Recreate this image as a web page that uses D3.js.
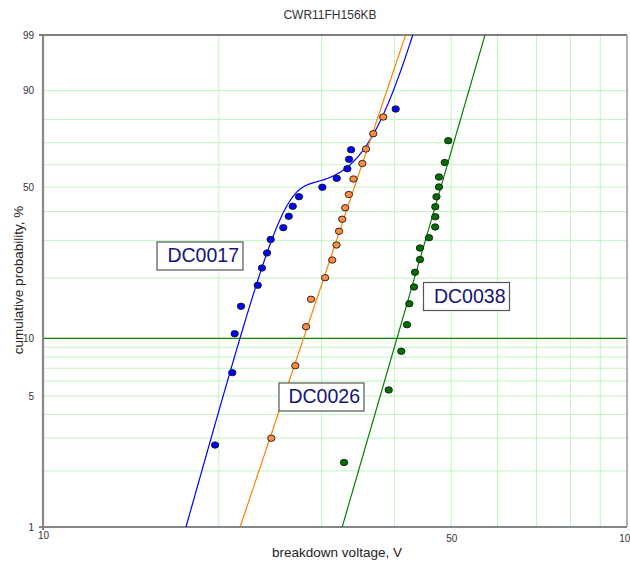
<!DOCTYPE html>
<html>
<head>
<meta charset="utf-8">
<script src="https://cdn.jsdelivr.net/npm/d3@7"></script>
<style>
  body { margin: 0; background: #fff; }
  svg { display: block; font-family: "Liberation Sans", Arial, sans-serif; }
</style>
</head>
<body>
<svg id="chart" width="630" height="565"></svg>
<script>
// Breakdown voltage (V) and cumulative failure probability (%) per lot
const dc0017Volts = [19.71, 21.09, 21.29, 21.83, 23.32, 23.71, 24.19, 24.54, 25.79, 26.35, 26.77, 27.44, 30.08, 31.84, 33.20, 33.42, 33.69, 40.17];
const dc0017Prob  = [2.75, 6.64, 10.56, 14.53, 18.45, 22.35, 26.29, 30.28, 34.16, 38.22, 42.05, 45.92, 49.90, 53.84, 58.16, 62.45, 66.84, 84.0];

const dc0026Volts = [24.60, 27.04, 28.21, 28.77, 30.41, 31.28, 31.81, 32.13, 32.54, 32.92, 33.40, 34.02, 35.22, 35.74, 36.77, 38.25];
const dc0026Prob  = [2.99, 7.22, 11.47, 15.75, 20.08, 24.38, 28.60, 32.94, 37.15, 41.46, 46.84, 53.53, 60.53, 67.16, 74.01, 80.96];

const dc0038Volts = [32.77, 39.08, 41.07, 42.00, 42.39, 43.18, 43.35, 44.21, 44.21, 45.81, 46.94, 46.96, 46.96, 47.18, 47.65, 47.65, 48.75, 49.42];
const dc0038Prob  = [2.22, 5.39, 8.58, 11.74, 14.97, 18.10, 21.32, 24.52, 27.71, 30.86, 34.40, 38.04, 41.89, 45.89, 50.03, 54.42, 60.98, 70.91];

// Weibull fits: single-mode for DC0026 / DC0038, two-mode mixture for DC0017
const fit0017 = { w: 0.5, beta1: 11.28, eta1: 24.85, beta2: 11.6, eta2: 38.2 };
const fit0026 = { beta: 9.39, eta: 35.5 };
const fit0038 = { beta: 10.88, eta: 49.65 };

// Axis and grid values
const xTickLabels = [10, 50, 100];
const yTickLabels = [99, 90, 50, 10, 5, 1];
const gridVolts = [20, 30, 40, 50, 60, 70, 80, 90];
const gridProbs = [90, 80, 70, 60, 50, 40, 30, 20, 9, 8, 7, 6, 5, 4, 3, 2];
const majorProb = 10;

const seriesNames = ["DC0017", "DC0026", "DC0038"];
const seriesColors = ["#0000ff", "#ff8000", "#008000"];
const markerFill = ["#0000ff", "#ff8c42", "#007000"];

const W = 630, H = 565;
const plot = { left: 43, right: 627, top: 35, bottom: 527 };

// Weibull probability transform
const wb = p => Math.log(-Math.log(1 - p / 100));

const x = d3.scaleLog().domain([10, 100]).range([plot.left, plot.right]);
const y = d3.scaleLinear().domain([wb(1), wb(99)]).range([plot.bottom, plot.top]);

const svg = d3.select("#chart");

svg.append("defs").append("clipPath").attr("id", "plotClip")
  .append("rect")
  .attr("x", plot.left).attr("y", plot.top)
  .attr("width", plot.right - plot.left).attr("height", plot.bottom - plot.top);

// Grid
const grid = svg.append("g");
grid.selectAll("line.gx").data(gridVolts).join("line")
  .attr("x1", d => x(d)).attr("x2", d => x(d))
  .attr("y1", plot.top).attr("y2", plot.bottom)
  .attr("stroke", "#bff5bf").attr("stroke-width", 1);
grid.selectAll("line.gy").data(gridProbs).join("line")
  .attr("x1", plot.left).attr("x2", plot.right)
  .attr("y1", d => y(wb(d))).attr("y2", d => y(wb(d)))
  .attr("stroke", "#bff5bf").attr("stroke-width", 1);
grid.append("line")
  .attr("x1", plot.left).attr("x2", plot.right)
  .attr("y1", y(wb(majorProb))).attr("y2", y(wb(majorProb)))
  .attr("stroke", "#008000").attr("stroke-width", 1.2);

// Frame
svg.append("line").attr("x1", plot.left - 4).attr("x2", plot.right)
  .attr("y1", plot.top).attr("y2", plot.top).attr("stroke", "#555").attr("stroke-width", 1.5);
svg.append("line").attr("x1", plot.left - 4).attr("x2", plot.right)
  .attr("y1", plot.bottom).attr("y2", plot.bottom).attr("stroke", "#111").attr("stroke-width", 1.2);
svg.append("line").attr("x1", plot.right).attr("x2", plot.right)
  .attr("y1", plot.top).attr("y2", plot.bottom).attr("stroke", "#999").attr("stroke-width", 1.5);
svg.append("line").attr("x1", plot.left).attr("x2", plot.left)
  .attr("y1", plot.top).attr("y2", plot.bottom + 3).attr("stroke", "#888").attr("stroke-width", 2.2);

// Axes (labels only)
const yAxis = svg.append("g")
  .attr("transform", `translate(${plot.left - 9},0)`)
  .call(d3.axisLeft(y).tickValues(yTickLabels.map(wb)).tickFormat((d, i) => yTickLabels[i]).tickSize(0).tickPadding(0));
yAxis.select(".domain").remove();
yAxis.selectAll("text").attr("font-size", 10).attr("fill", "#333")
  .attr("font-family", "Liberation Sans, Arial, sans-serif");

const xAxis = svg.append("g")
  .attr("transform", `translate(0,${plot.bottom + 5})`)
  .call(d3.axisBottom(x).tickValues(xTickLabels).tickFormat(d3.format("d")).tickSize(0).tickPadding(0));
xAxis.select(".domain").remove();
xAxis.selectAll("text").attr("font-size", 10).attr("fill", "#333")
  .attr("font-family", "Liberation Sans, Arial, sans-serif")
  .attr("dy", (d, i) => i === 0 ? "0.71em" : "1.0em");

// Fit lines
const fitPlot = svg.append("g").attr("clip-path", "url(#plotClip)");
const voltSamples = d3.range(0, 601).map(i => 12 * Math.pow(70 / 12, i / 600));
const weib = (v, beta, eta) => 1 - Math.exp(-Math.pow(v / eta, beta));
const fitFns = [
  v => fit0017.w * weib(v, fit0017.beta1, fit0017.eta1) + (1 - fit0017.w) * weib(v, fit0017.beta2, fit0017.eta2),
  v => weib(v, fit0026.beta, fit0026.eta),
  v => weib(v, fit0038.beta, fit0038.eta)
];
const line = d3.line().x(d => x(d[0])).y(d => y(d[1]));
fitFns.forEach((fn, k) => {
  const pts = voltSamples
    .map(v => [v, fn(v)])
    .filter(d => d[1] > 1e-6 && d[1] < 1 - 1e-9)
    .map(d => [d[0], Math.log(-Math.log(1 - d[1]))]);
  fitPlot.append("path").datum(pts)
    .attr("d", line).attr("fill", "none")
    .attr("stroke", seriesColors[k]).attr("stroke-width", 1.2);
});

// Data points
const series = [
  [dc0017Volts, dc0017Prob],
  [dc0026Volts, dc0026Prob],
  [dc0038Volts, dc0038Prob]
];
series.forEach(([vs, ps], k) => {
  svg.append("g").selectAll("ellipse")
    .data(vs.map((v, i) => [v, ps[i]]))
    .join("ellipse")
    .attr("cx", d => x(d[0])).attr("cy", d => y(wb(d[1])))
    .attr("rx", 3.7).attr("ry", 3.2)
    .attr("fill", markerFill[k]).attr("stroke", "#1a1a1a").attr("stroke-width", 0.9);
});

// Series name boxes
const nameBoxes = [
  { x: 157, y: 242, w: 86, h: 28 },
  { x: 279, y: 383, w: 85, h: 28 },
  { x: 423.5, y: 282.5, w: 86, h: 28 }
];
nameBoxes.forEach((b, k) => {
  const g = svg.append("g");
  g.append("rect").attr("x", b.x).attr("y", b.y).attr("width", b.w).attr("height", b.h)
    .attr("fill", "#fff").attr("stroke", "#555").attr("stroke-width", 1.2);
  g.append("text").attr("x", b.x + b.w - 4).attr("y", b.y + 20)
    .attr("text-anchor", "end").attr("font-size", 19.5).attr("fill", "#14147a")
    .text(seriesNames[k]);
});

// Titles
svg.append("text").attr("x", 330).attr("y", 19).attr("text-anchor", "middle")
  .attr("font-size", 12).attr("fill", "#333").text("CWR11FH156KB");
svg.append("text").attr("x", 337).attr("y", 557).attr("text-anchor", "middle")
  .attr("font-size", 13.5).attr("fill", "#222").text("breakdown voltage, V");
svg.append("text").attr("transform", "translate(23,280) rotate(-90)").attr("text-anchor", "middle")
  .attr("font-size", 13.5).attr("fill", "#222").text("cumulative probability, %");
</script>
</body>
</html>
